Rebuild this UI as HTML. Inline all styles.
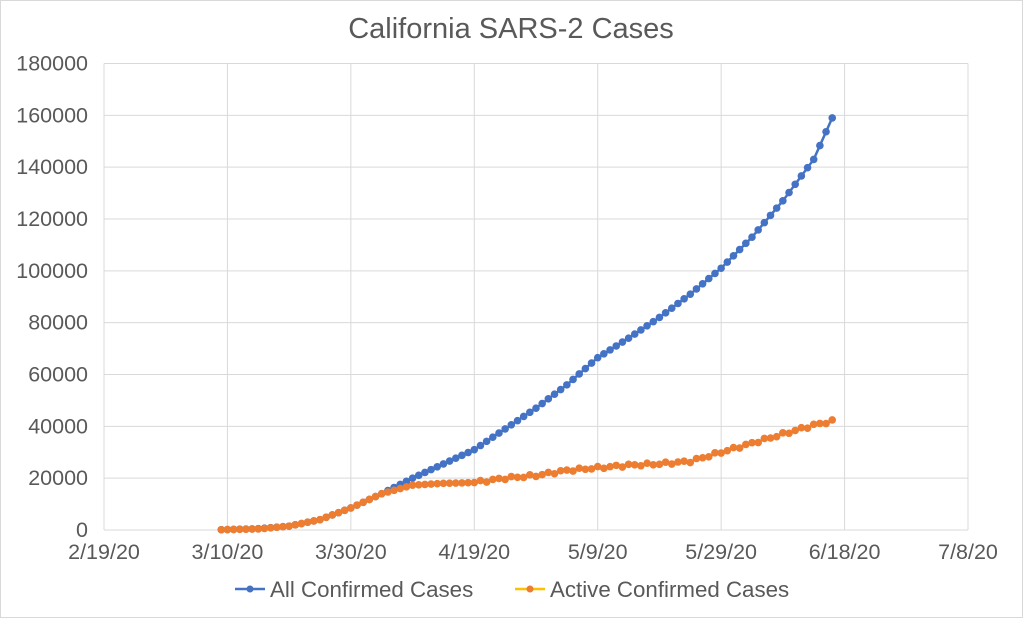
<!DOCTYPE html>
<html><head><style>
body{margin:0;background:#fff;}
svg{display:block;font-family:"Liberation Sans",Arial,sans-serif;}
</style></head><body>
<svg id="s" width="1023" height="618" viewBox="0 0 1023 618">
<rect x="0.5" y="0.5" width="1022" height="617" fill="#fff" stroke="#d9d9d9"/>
<text x="511" y="38" text-anchor="middle" font-size="29" fill="#595959">California SARS-2 Cases</text>
<g id="grid" stroke="#d9d9d9" stroke-width="1"></g>
<g id="lab" font-size="21.5" fill="#595959"></g>
<g id="ser"></g>
<line x1="235" y1="589" x2="265" y2="589" stroke="#4472c4" stroke-width="2.5"/><circle cx="250" cy="589" r="3.5" fill="#4472c4"/>
<text x="270" y="597" font-size="22.3" fill="#595959">All Confirmed Cases</text>
<line x1="515" y1="589" x2="545" y2="589" stroke="#ffc000" stroke-width="2.5"/><circle cx="530" cy="589" r="3.5" fill="#ed7d31"/>
<text x="550" y="597" font-size="22.3" fill="#595959">Active Confirmed Cases</text>
</svg>
<script>
var ns="http://www.w3.org/2000/svg";
function el(p,t,a,txt){var e=document.createElementNS(ns,t);for(var k in a)e.setAttribute(k,a[k]);if(txt)e.textContent=txt;document.getElementById(p).appendChild(e);}
var x0=104,x1=968,y0=530,y1=63.5;
function X(d){return x0+d*(x1-x0)/140;}function Y(v){return y0-v*(y0-y1)/180000;}
for(var i=0;i<=9;i++){var y=Y(i*20000);el("grid","line",{x1:x0,x2:x1,y1:y,y2:y});el("lab","text",{x:88,y:y+7,"text-anchor":"end"},String(i*20000));}
var dl=["2/19/20","3/10/20","3/30/20","4/19/20","5/9/20","5/29/20","6/18/20","7/8/20"];
for(var i=0;i<8;i++){var x=X(i*20);el("grid","line",{x1:x,x2:x,y1:y1,y2:y0});el("lab","text",{x:x,y:559,"text-anchor":"middle"},dl[i]);}
var A=[[19,100],[25,500],[30,1500],[35,4000],[40,8500],[45,14000],[50,20000],[55,25500],[60,31000],[65,39000],[70,47000],[75,56000],[80,66500],[85,74000],[90,82000],[95,91000],[100,101000],[105,113000],[110,127000],[115,143000],[118,159000]];
var B=[[19,100],[25,400],[30,1500],[35,4000],[40,8500],[45,14000],[50,17300],[55,18000],[60,18300],[65,20000],[70,21000],[75,23000],[80,24000],[85,25000],[90,25500],[95,26500],[100,30000],[105,33500],[110,37000],[115,40500],[118,42000]];
function interp(P,d){for(var i=0;i<P.length-1;i++){if(d<=P[i+1][0]){var t=(d-P[i][0])/(P[i+1][0]-P[i][0]);return P[i][1]+t*(P[i+1][1]-P[i][1]);}}return P[P.length-1][1];}
function series(P,c,lc,noise){var pts=[];for(var d=19;d<=118;d++){var v=interp(P,d);if(noise&&d>60)v+=Math.sin(d*2.3)*500;pts.push([X(d),Y(v)]);}
el("ser","polyline",{points:pts.map(function(p){return p.join(",")}).join(" "),fill:"none",stroke:lc,"stroke-width":2.5});
pts.forEach(function(p){el("ser","circle",{cx:p[0],cy:p[1],r:3.8,fill:c});});}
series(A,"#4472c4","#4472c4",false);series(B,"#ed7d31","#ed7d31",true);
</script>
</body></html>
